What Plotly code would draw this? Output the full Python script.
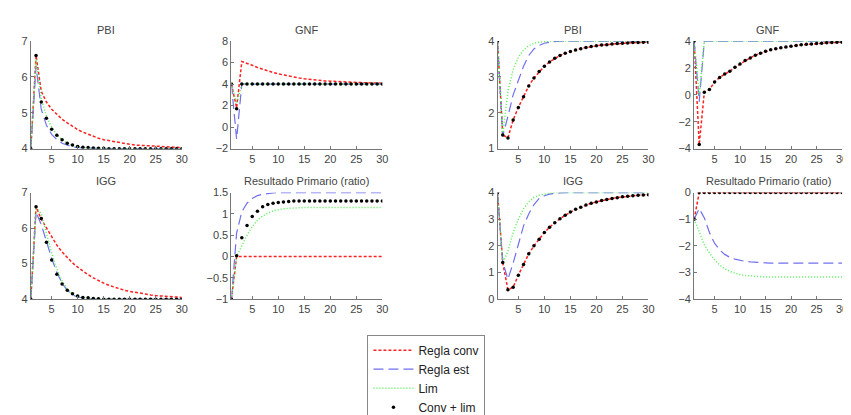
import plotly.graph_objects as go

W, H = 851, 415
t = list(range(1, 31))

# ---- Data (periods 1..30) ----
pbi_l_conv = [4, 6.6, 5.6, 5.3, 5.1, 4.95, 4.82, 4.72, 4.62, 4.53, 4.46, 4.40, 4.34, 4.29, 4.25, 4.22, 4.19, 4.16, 4.14, 4.12, 4.10, 4.09, 4.08, 4.07, 4.06, 4.05, 4.05, 4.04, 4.04, 4.03]
pbi_l_est = [4, 6.3, 5.1, 4.65, 4.4, 4.25, 4.15, 4.09, 4.05, 4.03, 4.02, 4.01, 4.0, 4.0, 4.0, 4.0, 4.0, 4.0, 4.0, 4.0, 4.0, 4.0, 4.0, 4.0, 4.0, 4.0, 4.0, 4.0, 4.0, 4.0]
pbi_l_lim = [4, 6.5, 5.4, 4.9, 4.6, 4.38, 4.25, 4.15, 4.09, 4.05, 4.03, 4.02, 4.01, 4.0, 4.0, 4.0, 4.0, 4.0, 4.0, 4.0, 4.0, 4.0, 4.0, 4.0, 4.0, 4.0, 4.0, 4.0, 4.0, 4.0]
pbi_l_cl = [4, 6.6, 5.3, 4.85, 4.54, 4.37, 4.25, 4.15, 4.1, 4.06, 4.04, 4.03, 4.02, 4.01, 4.01, 4.0, 4.0, 4.0, 4.0, 4.0, 4.0, 4.0, 4.0, 4.0, 4.0, 4.0, 4.0, 4.0, 4.0, 4.0]

gnf_l_conv = [4, 1.8, 6.1, 5.95, 5.75, 5.55, 5.38, 5.22, 5.08, 4.95, 4.84, 4.74, 4.65, 4.57, 4.5, 4.44, 4.39, 4.34, 4.3, 4.27, 4.24, 4.21, 4.19, 4.17, 4.15, 4.13, 4.12, 4.11, 4.1, 4.09]
gnf_l_est = [4, -1.1] + [4.0] * 28
gnf_l_lim = [4, 2.2] + [4.0] * 28
gnf_l_cl = [4, 1.7] + [4.0] * 28

pbi_r_conv = [4, 1.38, 1.3, 1.8, 2.15, 2.45, 2.75, 2.97, 3.15, 3.3, 3.42, 3.52, 3.6, 3.66, 3.71, 3.75, 3.79, 3.82, 3.85, 3.87, 3.89, 3.9, 3.92, 3.93, 3.94, 3.95, 3.96, 3.96, 3.97, 3.97]
pbi_r_est = [4, 1.35, 1.9, 2.5, 2.9, 3.3, 3.6, 3.78, 3.88, 3.94, 3.97, 3.99] + [4.0] * 18
pbi_r_lim = [4, 1.4, 2.6, 3.2, 3.55, 3.75, 3.87, 3.94, 3.97, 3.99] + [4.0] * 20
pbi_r_cl = [4, 1.38, 1.3, 1.8, 2.15, 2.45, 2.75, 2.97, 3.15, 3.3, 3.42, 3.52, 3.6, 3.66, 3.71, 3.75, 3.79, 3.82, 3.85, 3.87, 3.89, 3.9, 3.92, 3.93, 3.94, 3.95, 3.96, 3.96, 3.97, 3.97]

gnf_r_conv = [4, -3.7, 0.2, 0.4, 0.95, 1.3, 1.55, 1.75, 2.05, 2.3, 2.55, 2.75, 2.95, 3.1, 3.25, 3.35, 3.43, 3.5, 3.57, 3.62, 3.68, 3.72, 3.76, 3.79, 3.82, 3.85, 3.87, 3.89, 3.91, 3.92]
gnf_r_est = [4, -0.5] + [4.0] * 28
gnf_r_lim = [4, 0.0] + [4.0] * 28
gnf_r_cl = [4, -3.7, 0.2, 0.4, 0.95, 1.3, 1.55, 1.75, 2.05, 2.3, 2.55, 2.75, 2.95, 3.1, 3.25, 3.35, 3.43, 3.5, 3.57, 3.62, 3.68, 3.72, 3.76, 3.79, 3.82, 3.85, 3.87, 3.89, 3.91, 3.92]

igg_l_conv = [4, 6.6, 6.25, 6.0, 5.75, 5.52, 5.33, 5.16, 5.02, 4.9, 4.79, 4.69, 4.6, 4.52, 4.45, 4.39, 4.34, 4.29, 4.25, 4.22, 4.19, 4.16, 4.14, 4.12, 4.1, 4.09, 4.08, 4.07, 4.06, 4.05]
igg_l_est = [4, 6.45, 6.1, 5.6, 5.15, 4.75, 4.45, 4.25, 4.12, 4.06, 4.03, 4.01] + [4.0] * 18
igg_l_lim = [4, 6.6, 6.4, 5.85, 5.3, 4.85, 4.5, 4.28, 4.15, 4.08, 4.04, 4.02, 4.01] + [4.0] * 17
igg_l_cl = [4, 6.6, 6.27, 5.6, 5.1, 4.7, 4.43, 4.25, 4.15, 4.09, 4.05, 4.04, 4.02, 4.01] + [4.0] * 16

rp_l_conv = [-1, 0] + [0.0] * 28
rp_l_est = [-1, 0.55, 1.05, 1.25, 1.36, 1.43, 1.46, 1.48, 1.49] + [1.5] * 21
rp_l_lim = [-1, 0.0, 0.25, 0.5, 0.7, 0.85, 0.95, 1.02, 1.07, 1.1, 1.12, 1.13, 1.14] + [1.15] * 17
rp_l_cl = [-1, 0.02, 0.44, 0.73, 0.94, 1.06, 1.17, 1.22, 1.25, 1.27, 1.28, 1.29] + [1.3] * 18

igg_r_conv = [4, 1.38, 0.35, 0.45, 0.9, 1.3, 1.7, 2.0, 2.25, 2.5, 2.7, 2.87, 3.02, 3.15, 3.27, 3.37, 3.45, 3.53, 3.6, 3.65, 3.7, 3.74, 3.78, 3.81, 3.84, 3.86, 3.88, 3.9, 3.91, 3.92]
igg_r_est = [4, 1.4, 0.75, 1.35, 2.05, 2.75, 3.2, 3.55, 3.78, 3.88, 3.94, 3.97, 3.99] + [4.0] * 17
igg_r_lim = [4, 1.35, 1.8, 2.5, 3.0, 3.4, 3.65, 3.82, 3.9, 3.95, 3.98] + [4.0] * 19
igg_r_cl = [4, 1.38, 0.35, 0.45, 0.9, 1.3, 1.7, 2.0, 2.25, 2.5, 2.7, 2.87, 3.02, 3.15, 3.27, 3.37, 3.45, 3.53, 3.6, 3.65, 3.7, 3.74, 3.78, 3.81, 3.84, 3.86, 3.88, 3.9, 3.91, 3.92]

rp_r_conv = [-1, 0] + [0.0] * 28
rp_r_est = [-1, -0.6, -0.95, -1.5, -1.9, -2.15, -2.32, -2.43, -2.5, -2.55, -2.58, -2.6, -2.62, -2.63, -2.64] + [-2.65] * 15
rp_r_lim = [-1, -1.5, -1.95, -2.27, -2.52, -2.72, -2.86, -2.96, -3.03, -3.08, -3.11, -3.13, -3.15, -3.16] + [-3.17] * 16
rp_r_cl = [-1, 0] + [0.0] * 28

titles = ["PBI", "GNF", "PBI", "GNF", "IGG", "Resultado Primario (ratio)", "IGG", "Resultado Primario (ratio)"]
series_names = ["Regla conv", "Regla est", "Lim", "Conv + lim"]
panels = [
    (pbi_l_conv, pbi_l_est, pbi_l_lim, pbi_l_cl),
    (gnf_l_conv, gnf_l_est, gnf_l_lim, gnf_l_cl),
    (pbi_r_conv, pbi_r_est, pbi_r_lim, pbi_r_cl),
    (gnf_r_conv, gnf_r_est, gnf_r_lim, gnf_r_cl),
    (igg_l_conv, igg_l_est, igg_l_lim, igg_l_cl),
    (rp_l_conv, rp_l_est, rp_l_lim, rp_l_cl),
    (igg_r_conv, igg_r_est, igg_r_lim, igg_r_cl),
    (rp_r_conv, rp_r_est, rp_r_lim, rp_r_cl),
]
y_ranges = [(4, 7), (-2, 8), (1, 4), (-4, 4), (4, 7), (-1, 1.5), (0, 4), (-4, 0)]
y_ticks = [
    [4, 5, 6, 7], [-2, 0, 2, 4, 6, 8], [1, 2, 3, 4], [-4, -2, 0, 2, 4],
    [4, 5, 6, 7], [-1, -0.5, 0, 0.5, 1, 1.5], [0, 1, 2, 3, 4], [-4, -3, -2, -1, 0],
]
x_ticks = [5, 10, 15, 20, 25, 30]

# ---- Layout geometry (pixels) ----
col_px = [(23, 175), (225, 377), (493, 645), (691, 840)]
row_px = [(29, 144), (191, 305)]
title_y_px = [17, 179]

FONT = "Liberation Sans, Arial, sans-serif"
TXT = "#444444"
AX = "#777777"

fig = go.Figure()
styles = [
    dict(mode="lines", line=dict(color="#ff2020", width=1.5, dash="3px,2px")),
    dict(mode="lines", line=dict(color="#7070ee", width=1.2, dash="10px,5px")),
    dict(mode="lines", line=dict(color="#55ee55", width=1.5, dash="1px,2px")),
    dict(mode="markers", marker=dict(color="#000000", size=3.5, symbol="circle")),
]

layout = dict(
    width=W, height=H, margin=dict(l=0, r=0, t=0, b=0),
    paper_bgcolor="white", plot_bgcolor="white",
    font=dict(family=FONT, size=11, color=TXT),
    showlegend=True,
    legend=dict(
        x=362 / W, y=1 - 343 / H, xanchor="left", yanchor="top",
        bgcolor="white", bordercolor="#888888", borderwidth=1,
        font=dict(family=FONT, size=12, color="#222222"),
        itemwidth=40, tracegroupgap=0,
    ),
    annotations=[],
)

for i in range(8):
    r, c = divmod(i, 4)
    xs = "" if i == 0 else str(i + 1)
    xd = [col_px[c][0] / W, col_px[c][1] / W]
    yd = [1 - row_px[r][1] / H, 1 - row_px[r][0] / H]
    layout["xaxis" + xs] = dict(
        domain=xd, range=[1, 30], anchor="y" + xs, tickvals=x_ticks,
        showgrid=False, zeroline=False, showline=True, linecolor=AX, linewidth=1,
        ticks="inside", ticklen=3, tickcolor=AX, tickfont=dict(size=11, color=TXT),
    )
    layout["yaxis" + xs] = dict(
        domain=yd, range=list(y_ranges[i]), anchor="x" + xs, tickvals=y_ticks[i],
        showgrid=False, zeroline=False, showline=True, linecolor=AX, linewidth=1,
        ticks="inside", ticklen=3, tickcolor=AX, tickfont=dict(size=11, color=TXT),
    )
    layout["annotations"].append(dict(
        text=titles[i], x=(xd[0] + xd[1]) / 2, y=1 - title_y_px[r] / H,
        xref="paper", yref="paper", showarrow=False, xanchor="center", yanchor="middle",
        font=dict(size=11, color=TXT, family=FONT),
    ))
    for k, ys in enumerate(panels[i]):
        fig.add_trace(go.Scatter(
            x=t, y=ys, name=series_names[k], legendgroup=series_names[k],
            showlegend=(i == 0), xaxis="x" + xs, yaxis="y" + xs, **styles[k],
        ))

fig.update_layout(**layout)
fig.write_html("out.html")
